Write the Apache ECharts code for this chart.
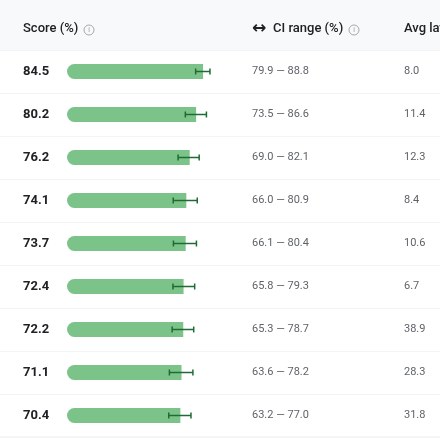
<!DOCTYPE html>
<html>
<head>
<meta charset="utf-8">
<script src="https://cdn.jsdelivr.net/npm/echarts@6/dist/echarts.min.js"></script>
<style>
  html, body { margin: 0; padding: 0; background: #fff; }
  #main { width: 440px; height: 440px; }
</style>
</head>
<body>
<div id="main"></div>
<script>
const scores = [84.5, 80.2, 76.2, 74.1, 73.7, 72.4, 72.2, 71.1, 70.4];
const ciLow = [79.9, 73.5, 69.0, 66.0, 66.1, 65.8, 65.3, 63.6, 63.2];
const ciHigh = [88.8, 86.6, 82.1, 80.9, 80.4, 79.3, 78.7, 78.2, 77.0];
const avgLatency = [8.0, 11.4, 12.3, 8.4, 10.6, 6.7, 38.9, 28.3, 31.8];

const rows = scores.map((s, i) => String(i));
const scoreLabels = scores.map(s => s.toFixed(1));
const ciLabels = ciLow.map((lo, i) => lo.toFixed(1) + ' \u2014 ' + ciHigh[i].toFixed(1));
const latLabels = avgLatency.map(v => v.toFixed(1));

const font = 'Roboto, "Noto Sans", sans-serif';
let myChart = echarts.init(document.getElementById('main'));

function infoIcon(x, y) {
   return {
      type: 'group', x: x, y: y,
      children: [
         { type: 'circle', shape: { cx: 0, cy: 0, r: 5 }, style: { fill: 'none', stroke: '#9aa0a6', lineWidth: 0.9 } },
         { type: 'text', style: { x: 0, y: 0.5, text: 'i', fill: '#9aa0a6', font: '7px ' + font, align: 'center', verticalAlign: 'middle' } }
      ]
   };
}

myChart.setOption({
   animation: false,
   graphic: [
      { type: 'rect', shape: { x: 0, y: 0, width: 440, height: 50 }, style: { fill: '#f8f9fa' }, z: -1 },
      { type: 'text', style: { x: 23, y: 29, text: 'Score (%)', fill: '#202124', font: '500 13px ' + font, verticalAlign: 'middle' } },
      infoIcon(89, 30),
      { type: 'text', style: { x: 252, y: 29, text: '\u2194', fill: '#202124', font: 'bold 17px "DejaVu Sans", sans-serif', verticalAlign: 'middle' } },
      { type: 'text', style: { x: 273, y: 29, text: 'CI range (%)', fill: '#202124', font: '500 13px ' + font, verticalAlign: 'middle' } },
      infoIcon(354, 30),
      { type: 'text', style: { x: 404, y: 29, text: 'Avg latency (s)', fill: '#202124', font: '500 13px ' + font, verticalAlign: 'middle' } },
      { type: 'line', shape: { x1: 0, y1: 437, x2: 440, y2: 437 }, style: { stroke: '#e8eaed', lineWidth: 1 } }
   ],
   grid: [
      { left: 0, right: 0, top: 50, bottom: 3 },
      { left: 67, right: 212, top: 50, bottom: 3 }
   ],
   xAxis: [
      { gridIndex: 0, type: 'value', show: false },
      { gridIndex: 1, type: 'value', min: 0, max: 100, show: false }
   ],
   yAxis: [
      {
         gridIndex: 0, type: 'category', data: rows, inverse: true,
         axisLine: { show: false }, axisTick: { show: false }, axisLabel: { show: false },
         splitLine: { show: true, lineStyle: { color: '#f3f4f5', width: 1 } }
      },
      {
         gridIndex: 1, type: 'category', data: scoreLabels, inverse: true, position: 'left',
         axisLine: { show: false }, axisTick: { show: false }, splitLine: { show: false },
         axisLabel: { align: 'left', margin: 44, color: '#202124', fontWeight: 'bold', fontSize: 13, fontFamily: font }
      },
      {
         gridIndex: 1, type: 'category', data: ciLabels, inverse: true, position: 'right', offset: 16,
         axisLine: { show: false }, axisTick: { show: false }, splitLine: { show: false },
         axisLabel: { align: 'left', margin: 8, color: '#5f6368', fontSize: 11, fontFamily: font }
      },
      {
         gridIndex: 1, type: 'category', data: latLabels, inverse: true, position: 'right', offset: 168,
         axisLine: { show: false }, axisTick: { show: false }, splitLine: { show: false },
         axisLabel: { align: 'left', margin: 8, color: '#5f6368', fontSize: 11, fontFamily: font }
      }
   ],
   series: [
      {
         type: 'bar', xAxisIndex: 1, yAxisIndex: 1,
         data: scores, barWidth: 15,
         itemStyle: { color: '#7cc38a', borderRadius: [8, 0, 0, 8] }
      },
      {
         type: 'custom', xAxisIndex: 1, yAxisIndex: 1,
         data: ciLow.map((lo, i) => [i, lo, ciHigh[i]]),
         encode: { x: [1, 2], y: 0 },
         renderItem: function (params, api) {
            const a = api.coord([api.value(1), api.value(0)]);
            const b = api.coord([api.value(2), api.value(0)]);
            const h = 3;
            const st = { stroke: '#1e6b34', lineWidth: 1.5 };
            return {
               type: 'group',
               children: [
                  { type: 'line', shape: { x1: a[0], y1: a[1], x2: b[0], y2: b[1] }, style: st },
                  { type: 'line', shape: { x1: a[0], y1: a[1] - h, x2: a[0], y2: a[1] + h }, style: st },
                  { type: 'line', shape: { x1: b[0], y1: b[1] - h, x2: b[0], y2: b[1] + h }, style: st }
               ]
            };
         },
         z: 3
      }
   ]
});
</script>
</body>
</html>
